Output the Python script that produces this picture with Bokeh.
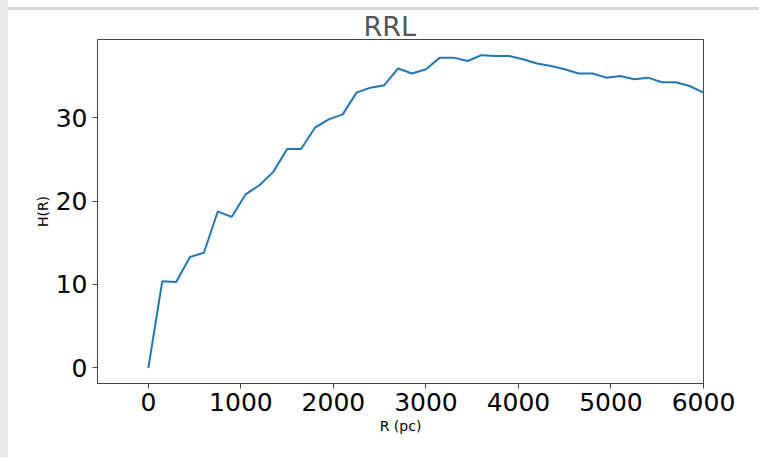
from bokeh.plotting import figure
from bokeh.models import FixedTicker, Range1d
from bokeh.layouts import column
from bokeh.embed import file_html
from bokeh.resources import INLINE

title_text = "RRL"
x_label = "R (pc)"
y_label = "H(R)"

r_pc = [0, 150, 300, 450, 600, 750, 900, 1050, 1200, 1350, 1500, 1650, 1800, 1950,
        2100, 2250, 2400, 2550, 2700, 2850, 3000, 3150, 3300, 3450, 3600, 3750, 3900,
        4050, 4200, 4350, 4500, 4650, 4800, 4950, 5100, 5250, 5400, 5550, 5700, 5850, 6000]
h_r = [0.0, 10.4, 10.3, 13.3, 13.8, 18.75, 18.1, 20.8, 21.9, 23.5, 26.25, 26.25, 28.8, 29.8,
       30.4, 33.0, 33.6, 33.9, 35.9, 35.3, 35.8, 37.2, 37.2, 36.8, 37.5, 37.4, 37.4,
       37.0, 36.5, 36.2, 35.8, 35.3, 35.3, 34.8, 35.0, 34.6, 34.8, 34.25, 34.25, 33.8, 33.0]

x_ticks = [0, 1000, 2000, 3000, 4000, 5000, 6000]
y_ticks = [0, 10, 20, 30]

FONT = "DejaVu Sans"

p = figure(width=751, height=450, output_backend="svg", toolbar_location=None,
           x_range=Range1d(-550, 6000), y_range=Range1d(-1.875, 39.375),
           title=title_text,
           min_border_left=89, min_border_right=56, min_border_top=29, min_border_bottom=77)

p.line(r_pc, h_r, line_color="#1f77b4", line_width=2)

p.title.text_font = FONT
p.title.text_font_size = "27px"
p.title.text_font_style = "normal"
p.title.text_color = "#555555"
p.title.align = "left"
p.title.offset = 266
p.title.standoff = -4

p.xgrid.visible = False
p.ygrid.visible = False
p.outline_line_color = "#444444"
p.outline_line_width = 1

for ax in (p.xaxis[0], p.yaxis[0]):
    ax.axis_line_color = "#444444"
    ax.major_tick_line_color = "#444444"
    ax.major_tick_out = 5
    ax.major_tick_in = 0
    ax.minor_tick_line_color = None
    ax.major_label_text_font = FONT
    ax.major_label_text_font_size = "25px"
    ax.major_label_text_color = "black"
    ax.axis_label_text_font = FONT
    ax.axis_label_text_font_size = "14px"
    ax.axis_label_text_font_style = "normal"
    ax.axis_label_text_color = "black"

p.xaxis.ticker = FixedTicker(ticks=x_ticks)
p.yaxis.ticker = FixedTicker(ticks=y_ticks)
p.xaxis.axis_label = x_label
p.yaxis.axis_label = y_label
p.xaxis.major_label_standoff = 4
p.yaxis.major_label_standoff = 5
p.xaxis.axis_label_standoff = 4
p.yaxis.axis_label_standoff = 2

p.styles = {"border-top": "3px solid #d4d4d4"}
layout = column(p, styles={"border-left": "8px solid #e8e8e8", "padding-top": "7px"})

open("out.html", "w").write(file_html(layout, INLINE))
